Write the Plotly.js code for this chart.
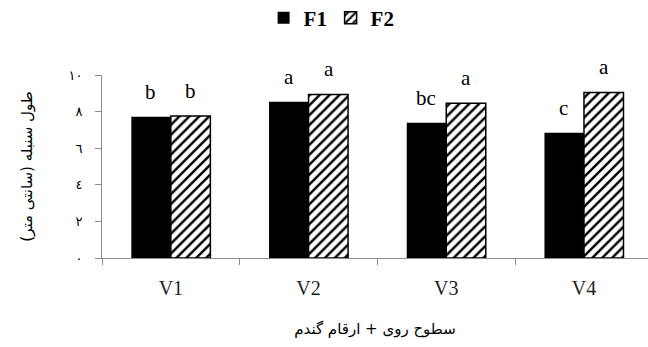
<!DOCTYPE html>
<html>
<head>
<meta charset="utf-8">
<script src="https://cdn.plot.ly/plotly-3.0.1.min.js"></script>
<style>html,body{margin:0;padding:0;background:#fff;}#chart{width:648px;height:347px;}</style>
</head>
<body>
<div id="chart"></div>
<script>
const categories = ['V1', 'V2', 'V3', 'V4'];
const seriesNames = ['F1', 'F2'];
const f1Values = [7.72, 8.54, 7.39, 6.85];
const f2Values = [7.76, 8.94, 8.45, 9.05];
const f1Letters = ['b', 'a', 'bc', 'c'];
const f2Letters = ['b', 'a', 'a', 'a'];
const yTickVals = [0, 2, 4, 6, 8, 10];
const yTickText = ['٠', '٢', '٤', '٦', '٨', '١٠'];
const xTitle = 'سطوح روی + ارقام گندم';
const yTitle = 'طول سنبله (سانتی متر)';

const serif = 'Liberation Serif, Times New Roman, serif';

const traces = [
  {
    type: 'bar', name: seriesNames[0], x: categories, y: f1Values,
    marker: {color: '#000000', line: {color: '#000000', width: 0}},
    hoverinfo: 'skip'
  },
  {
    type: 'bar', name: seriesNames[1], x: categories, y: f2Values,
    marker: {
      color: '#ffffff',
      line: {color: '#000000', width: 1.5},
      pattern: {shape: '/', fgcolor: '#000000', bgcolor: '#ffffff', size: 7, solidity: 0.35, fillmode: 'replace'}
    },
    hoverinfo: 'skip'
  }
];

const annotations = [];
categories.forEach((c, i) => {
  annotations.push({x: c, y: f1Values[i], xref: 'x', yref: 'y', text: f1Letters[i], showarrow: false,
    xshift: -20, yshift: 25, font: {family: serif, size: 21, color: '#000'}});
  annotations.push({x: c, y: f2Values[i], xref: 'x', yref: 'y', text: f2Letters[i], showarrow: false,
    xshift: 20, yshift: 25, font: {family: serif, size: 21, color: '#000'}});
});

const layout = {
  width: 648, height: 347,
  margin: {l: 102, r: 0, t: 75, b: 89, autoexpand: false},
  paper_bgcolor: '#fff', plot_bgcolor: '#fff',
  barmode: 'group', bargap: 0.426, bargroupgap: 0,
  showlegend: true,
  legend: {
    orientation: 'h', xref: 'paper', x: 0.296, xanchor: 'left',
    yref: 'container', y: 0.948, yanchor: 'middle',
    font: {family: serif, size: 21, color: '#000', weight: 'bold'},
    itemwidth: 30, entrywidth: 22, tracegroupgap: 0, traceorder: 'normal'
  },
  xaxis: {
    type: 'category', range: [-0.5, 3.465],
    showline: true, linecolor: '#8c8c8c', linewidth: 1,
    ticks: 'outside', tickson: 'boundaries', ticklen: 6, tickcolor: '#8c8c8c',
    ticklabelstandoff: 12,
    tickfont: {family: serif, size: 20, color: '#222'},
    showgrid: false, zeroline: false, automargin: false,
    title: {text: xTitle, font: {family: 'DejaVu Sans, sans-serif', size: 15, color: '#000'}, standoff: 25}
  },
  yaxis: {
    range: [0, 10], tickvals: yTickVals, ticktext: yTickText,
    showline: true, linecolor: '#8c8c8c', linewidth: 1,
    ticks: 'outside', ticklen: 6, tickcolor: '#8c8c8c',
    ticklabelstandoff: 10,
    tickfont: {family: 'DejaVu Sans, sans-serif', size: 13, color: '#000'},
    showgrid: false, zeroline: false, automargin: false,
    title: {text: yTitle, font: {family: 'DejaVu Sans, sans-serif', size: 15, color: '#000'}, standoff: 32}
  },
  annotations: annotations
};

Plotly.newPlot('chart', traces, layout, {displayModeBar: false, staticPlot: true});
</script>
</body>
</html>
